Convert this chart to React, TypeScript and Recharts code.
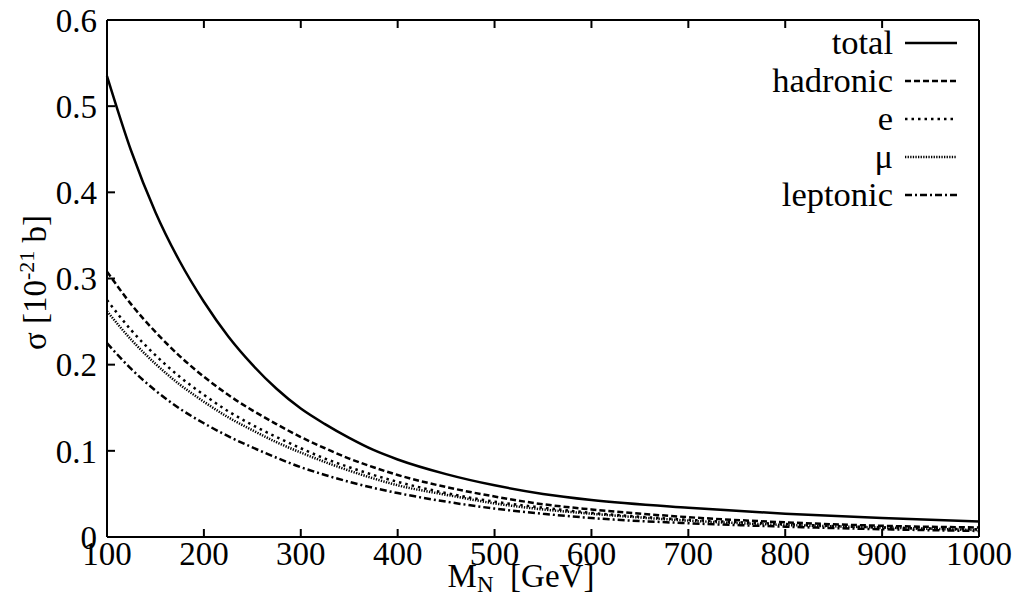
import React from 'react';
import { LineChart, Line, XAxis, YAxis } from 'recharts';

// heavy neutrino mass (GeV) and cross sections (10^-21 b)
const masses = [100, 125, 150, 175, 200, 225, 250, 275, 300, 325, 350, 375, 400, 450, 500, 550, 600, 700, 800, 900, 1000];
const total = [0.535, 0.448, 0.377, 0.32, 0.273, 0.233, 0.2, 0.172, 0.149, 0.131, 0.115, 0.101, 0.09, 0.073, 0.06, 0.05, 0.043, 0.034, 0.027, 0.022, 0.018];
const hadronic = [0.308, 0.27, 0.238, 0.21, 0.186, 0.165, 0.147, 0.131, 0.116, 0.103, 0.091, 0.081, 0.072, 0.058, 0.047, 0.038, 0.032, 0.023, 0.017, 0.013, 0.011];
const electron = [0.275, 0.24, 0.211, 0.186, 0.165, 0.146, 0.13, 0.116, 0.103, 0.091, 0.081, 0.072, 0.064, 0.051, 0.041, 0.034, 0.028, 0.02, 0.015, 0.011, 0.009];
const muon = [0.262, 0.229, 0.201, 0.177, 0.157, 0.139, 0.124, 0.11, 0.098, 0.087, 0.077, 0.068, 0.06, 0.049, 0.039, 0.032, 0.027, 0.019, 0.014, 0.011, 0.008];
const leptonic = [0.225, 0.195, 0.17, 0.149, 0.132, 0.117, 0.104, 0.092, 0.081, 0.072, 0.064, 0.057, 0.051, 0.041, 0.033, 0.027, 0.022, 0.016, 0.012, 0.009, 0.007];

const xTicks = [100, 200, 300, 400, 500, 600, 700, 800, 900, 1000];
const yTicks = [0, 0.1, 0.2, 0.3, 0.4, 0.5, 0.6];

const data = masses.map((m, i) => ({
  m,
  total: total[i],
  hadronic: hadronic[i],
  e: electron[i],
  mu: muon[i],
  leptonic: leptonic[i],
}));

const series = [
  { key: 'total', name: 'total', dash: undefined as string | undefined },
  { key: 'hadronic', name: 'hadronic', dash: '6 3' },
  { key: 'e', name: 'e', dash: '2.5 4' },
  { key: 'mu', name: 'μ', dash: '1.3 1.3' },
  { key: 'leptonic', name: 'leptonic', dash: '7 3 2 3' },
];

const FONT = 'Liberation Serif, DejaVu Serif, Times New Roman, serif';
const tickStyle = { fontSize: 33, fill: '#000', style: { fontFamily: FONT } };

const NoTick = () => <g />;

const YLabel = ({ viewBox }: any) => {
  const cx = 46;
  const cy = viewBox.y + viewBox.height / 2 + 4;
  return (
    <text x={cx} y={cy} transform={`rotate(-90 ${cx} ${cy})`} textAnchor="middle" style={{ fontFamily: FONT }} fontSize={33} fill="#000">
      σ [10<tspan dy={-12} fontSize={22}>-21</tspan>
      <tspan dy={12}>{'\u00a0b]'}</tspan>
    </text>
  );
};

const XLabel = ({ viewBox }: any) => {
  const cx = viewBox.x + viewBox.width / 2 - 22;
  const cy = viewBox.y + 50;
  return (
    <text x={cx} y={cy} textAnchor="middle" style={{ fontFamily: FONT }} fontSize={33} fill="#000">
      M<tspan dy={5} fontSize={23}>N</tspan>
      <tspan dy={-5}>{'\u00a0\u00a0[GeV]'}</tspan>
    </text>
  );
};

function KeyBox() {
  return (
    <svg width={1020} height={597} style={{ position: 'absolute', left: 0, top: 0, pointerEvents: 'none' }}>
      {series.map((s, i) => {
        const cy = 43 + i * 38;
        return (
          <g key={s.key}>
            <text x={893} y={cy + 11} textAnchor="end" style={{ fontFamily: FONT }} fontSize={34.5} fill="#000">
              {s.name}
            </text>
            <line x1={905} x2={957} y1={cy} y2={cy} stroke="#000" strokeWidth={2.5} strokeDasharray={s.dash} />
          </g>
        );
      })}
    </svg>
  );
}

export default function App() {
  return (
    <div style={{ position: 'absolute', left: 0, top: 0, width: 1020, height: 597, background: '#fff', fontFamily: FONT }}>
      <LineChart width={1020} height={597} data={data} margin={{ top: 19, right: 40, left: 0, bottom: 0 }}>
        <XAxis
          dataKey="m"
          type="number"
          domain={[100, 1000]}
          ticks={xTicks}
          height={60}
          tickSize={-8}
          tickMargin={13}
          axisLine={{ stroke: '#000', strokeWidth: 2 }}
          tickLine={{ stroke: '#000', strokeWidth: 2 }}
          tick={tickStyle}
          label={<XLabel />}
        />
        <XAxis
          xAxisId="top"
          orientation="top"
          dataKey="m"
          type="number"
          domain={[100, 1000]}
          ticks={xTicks}
          height={1}
          tickSize={-8}
          axisLine={{ stroke: '#000', strokeWidth: 2 }}
          tickLine={{ stroke: '#000', strokeWidth: 2 }}
          tick={NoTick}
        />
        <YAxis
          type="number"
          domain={[0, 0.6]}
          ticks={yTicks}
          width={107}
          tickSize={-8}
          tickMargin={18}
          tickFormatter={(v: number) => (v === 0 ? '0' : v.toFixed(1))}
          axisLine={{ stroke: '#000', strokeWidth: 2 }}
          tickLine={{ stroke: '#000', strokeWidth: 2 }}
          tick={tickStyle}
          label={<YLabel />}
        />
        <YAxis
          yAxisId="right"
          orientation="right"
          type="number"
          domain={[0, 0.6]}
          ticks={yTicks}
          width={1}
          tickSize={-8}
          axisLine={{ stroke: '#000', strokeWidth: 2 }}
          tickLine={{ stroke: '#000', strokeWidth: 2 }}
          tick={NoTick}
        />
        {series.map((s) => (
          <Line
            key={s.key}
            type="monotone"
            dataKey={s.key}
            name={s.name}
            stroke="#000"
            strokeWidth={2.5}
            strokeDasharray={s.dash}
            dot={false}
            activeDot={false}
            isAnimationActive={false}
          />
        ))}
      </LineChart>
      <KeyBox />
    </div>
  );
}
